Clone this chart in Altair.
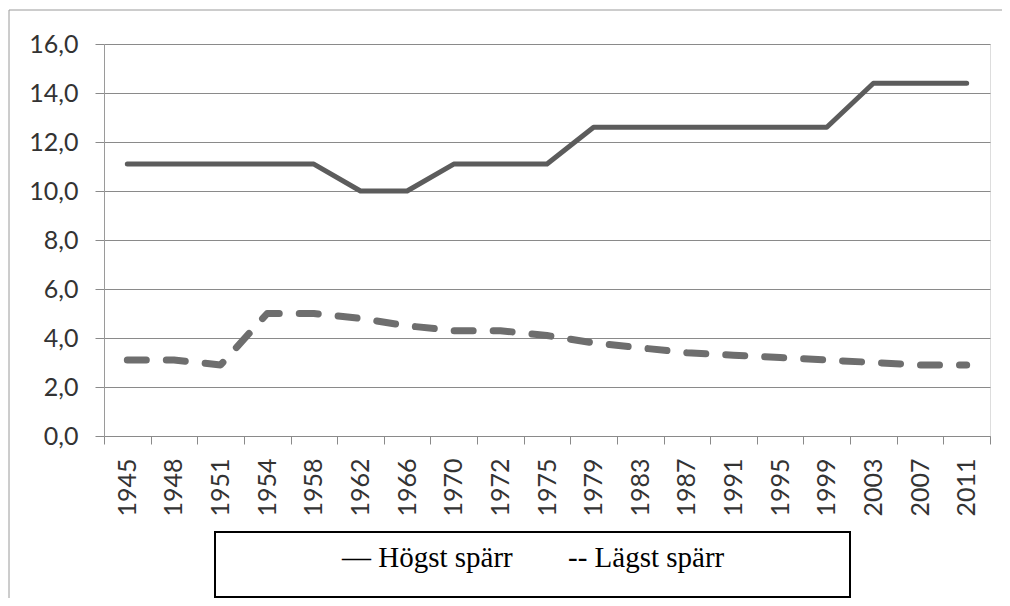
import altair as alt
import pandas as pd

years = ["1945", "1948", "1951", "1954", "1958", "1962", "1966", "1970", "1972", "1975",
         "1979", "1983", "1987", "1991", "1995", "1999", "2003", "2007", "2011"]
hogst = [11.1, 11.1, 11.1, 11.1, 11.1, 10.0, 10.0, 11.1, 11.1, 11.1,
         12.6, 12.6, 12.6, 12.6, 12.6, 12.6, 14.4, 14.4, 14.4]
lagst = [3.1, 3.1, 2.9, 5.0, 5.0, 4.8, 4.5, 4.3, 4.3, 4.1,
         3.8, 3.6, 3.4, 3.3, 3.2, 3.1, 3.0, 2.9, 2.9]
series_names = ["Högst spärr", "Lägst spärr"]
legend_labels = ["— Högst spärr", "-- Lägst spärr"]
y_ticks = [0, 2, 4, 6, 8, 10, 12, 14, 16]

df = pd.DataFrame({
    "year": years * 2,
    "value": hogst + lagst,
    "series": [series_names[0]] * len(years) + [series_names[1]] * len(years),
})

W, H = 886, 392

x_enc = alt.X("year:N", sort=years, title=None,
              scale=alt.Scale(type="band", paddingInner=0, paddingOuter=0),
              axis=alt.Axis(labelAngle=270, tickBand="extent", tickSize=8,
                            labelPadding=14, labelFont="Lato", labelFontSize=25,
                            labelColor="#333333", domainColor="#8a8a8a",
                            tickColor="#8a8a8a", grid=False))
y_enc = alt.Y("value:Q", title=None,
              scale=alt.Scale(domain=[0, 16], nice=False),
              axis=alt.Axis(values=y_ticks, tickSize=9, labelPadding=17,
                            labelFont="Lato", labelFontSize=25, labelColor="#333333",
                            labelExpr="replace(format(datum.value, '.1f'), '.', ',')",
                            grid=True, gridColor="#8a8a8a", gridWidth=1,
                            domainColor="#9a9a9a", tickColor="#8a8a8a"))

high = alt.Chart(df).transform_filter(
    alt.datum.series == series_names[0]
).mark_line(color="#5c5c5c", strokeWidth=5, strokeCap="round", strokeJoin="round").encode(
    x=x_enc, y=y_enc
)

low = alt.Chart(df).transform_filter(
    alt.datum.series == series_names[1]
).mark_line(color="#6e6e6e", strokeWidth=7, strokeCap="round", strokeJoin="round",
            strokeDash=[19, 20]).encode(
    x=alt.X("year:N", sort=years), y=alt.Y("value:Q")
)

one = pd.DataFrame({"k": [0]})

legend_box = alt.Chart(one).mark_rect(filled=False, stroke="black", strokeWidth=2).encode(
    x=alt.value(111), x2=alt.value(746), y=alt.value(488), y2=alt.value(553)
)
leg1 = alt.Chart(pd.DataFrame({"t": [legend_labels[0]]})).mark_text(
    font="Liberation Serif", fontSize=29, align="left", baseline="alphabetic", color="black"
).encode(x=alt.value(238), y=alt.value(523), text="t:N")
leg2 = alt.Chart(pd.DataFrame({"t": [legend_labels[1]]})).mark_text(
    font="Liberation Serif", fontSize=29, align="left", baseline="alphabetic", color="black"
).encode(x=alt.value(464), y=alt.value(523), text="t:N")

frame_top = alt.Chart(one).mark_rule(color="#9a9a9a", strokeWidth=1).encode(
    x=alt.value(-95), x2=alt.value(906), y=alt.value(-34)
)
frame_left = alt.Chart(one).mark_rule(color="#9a9a9a", strokeWidth=1).encode(
    x=alt.value(-95), y=alt.value(-34), y2=alt.value(560)
)

chart = alt.layer(frame_top, frame_left, high, low, legend_box, leg1, leg2).properties(
    width=W, height=H,
    autosize=alt.AutoSizeParams(type="none"),
    padding={"left": 96, "top": 36, "right": 12, "bottom": 162},
).configure_view(stroke=None).configure(background="white")

chart.save("out.html", embed_options={"renderer": "svg", "actions": False})
